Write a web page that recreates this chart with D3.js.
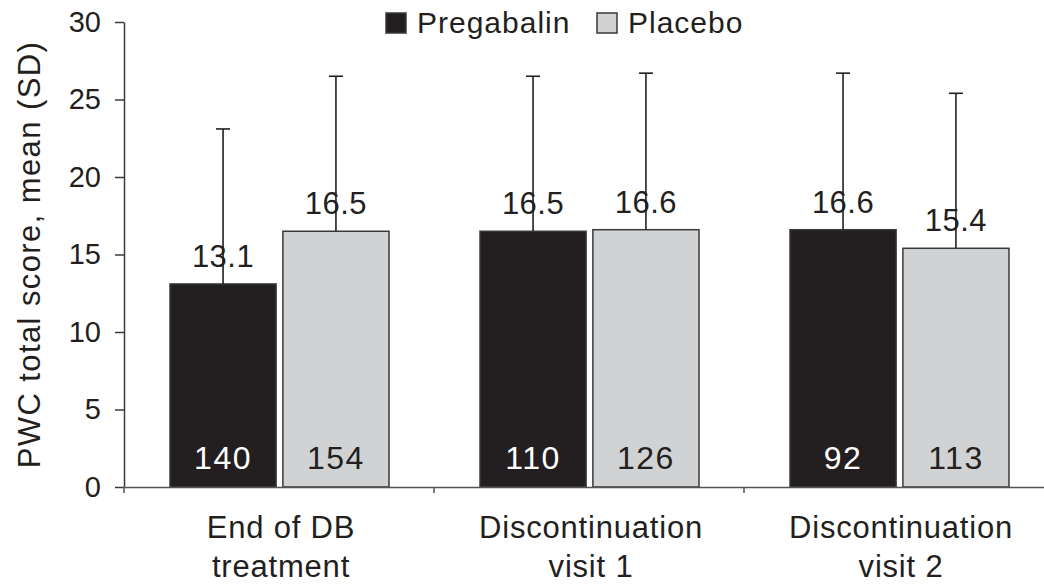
<!DOCTYPE html>
<html>
<head>
<meta charset="utf-8">
<script src="https://cdn.jsdelivr.net/npm/d3@7"></script>
<style>
  html, body { margin: 0; padding: 0; background: #fff; }
  svg { display: block; }
  text { font-family: "Liberation Sans", Arial, Helvetica, sans-serif; fill: #231f20; }
</style>
</head>
<body>
<svg id="chart" width="1044" height="588"></svg>
<script>
// Visit groups (two-line axis labels)
const categories = ["End of DB treatment", "Discontinuation visit 1", "Discontinuation visit 2"];
const categoryLines = [["End of DB", "treatment"], ["Discontinuation", "visit 1"], ["Discontinuation", "visit 2"]];
const seriesNames = ["Pregabalin", "Placebo"];

// PWC total score, mean and SD
const pregabalinMean = [13.1, 16.5, 16.6];
const placeboMean = [16.5, 16.6, 15.4];
const pregabalinSD = [10.0, 10.0, 10.1];
const placeboSD = [10.0, 10.1, 10.0];

// Patients per bar
const pregabalinN = [140, 110, 92];
const placeboN = [154, 126, 113];

const yTicks = [0, 5, 10, 15, 20, 25, 30];

const svg = d3.select("#chart");
const plotLeft = 124, plotTop = 22, plotBottom = 487;
const bandStep = 310;

const y = d3.scaleLinear().domain([0, 30]).range([plotBottom, plotTop]);
const x0 = d3.scaleBand().domain(categories).range([plotLeft, plotLeft + bandStep * categories.length]).padding(0);
const x1 = d3.scaleBand().domain(seriesNames).range([46, 265]).paddingInner(0.06).paddingOuter(0);

const fills = { "Pregabalin": "#231f20", "Placebo": "#d1d2d4" };
const labelFill = { "Pregabalin": "#ffffff", "Placebo": "#231f20" };

const rows = [];
categories.forEach((c, i) => {
  rows.push({ cat: c, s: "Pregabalin", mean: pregabalinMean[i], sd: pregabalinSD[i], n: pregabalinN[i] });
  rows.push({ cat: c, s: "Placebo", mean: placeboMean[i], sd: placeboSD[i], n: placeboN[i] });
});

// Bars
svg.append("g").selectAll("rect").data(rows).join("rect")
  .attr("x", d => x0(d.cat) + x1(d.s))
  .attr("y", d => y(d.mean))
  .attr("width", x1.bandwidth())
  .attr("height", d => y(0) - y(d.mean))
  .attr("fill", d => fills[d.s])
  .attr("stroke", "#3a3a3a")
  .attr("stroke-width", 1.5);

// Mean labels above bars
svg.append("g").selectAll("text").data(rows).join("text")
  .attr("x", d => x0(d.cat) + x1(d.s) + x1.bandwidth() / 2)
  .attr("y", d => y(d.mean) - 17)
  .attr("text-anchor", "middle")
  .attr("font-size", 31)
  .attr("letter-spacing", 0.5)
  .text(d => d.mean.toFixed(1));

// Upper SD whiskers
const err = svg.append("g").attr("stroke", "#231f20").attr("stroke-width", 1.6);
rows.forEach(d => {
  const cx = x0(d.cat) + x1(d.s) + x1.bandwidth() / 2;
  err.append("line").attr("x1", cx).attr("x2", cx).attr("y1", y(d.mean)).attr("y2", y(d.mean + d.sd));
  err.append("line").attr("x1", cx - 7).attr("x2", cx + 7).attr("y1", y(d.mean + d.sd)).attr("y2", y(d.mean + d.sd));
});

// Patient counts inside bars
svg.append("g").selectAll("text").data(rows).join("text")
  .attr("x", d => x0(d.cat) + x1(d.s) + x1.bandwidth() / 2)
  .attr("y", y(0) - 18)
  .attr("text-anchor", "middle")
  .attr("font-size", 32)
  .attr("letter-spacing", 1.5)
  .style("fill", d => labelFill[d.s])
  .text(d => d.n);

// Y axis
const yAxis = svg.append("g").attr("transform", `translate(${plotLeft},0)`)
  .call(d3.axisLeft(y).tickValues(yTicks).tickSize(9).tickSizeOuter(0).tickPadding(14));
yAxis.selectAll("path, line").attr("stroke", "#3a3a3a").attr("stroke-width", 1.5);
yAxis.selectAll("text").attr("font-size", 29).attr("font-family", "Liberation Sans, Arial, sans-serif").style("fill", "#231f20");

// X axis: baseline with ticks at group boundaries
const xAxis = svg.append("g").attr("transform", `translate(0,${y(0)})`)
  .call(d3.axisBottom(x0).tickSize(0).tickSizeOuter(0).tickFormat(""));
xAxis.select(".domain").attr("stroke", "#555").attr("stroke-width", 1.5);
xAxis.selectAll(".tick line").remove();
xAxis.selectAll(".tick-mark").data(categories).join("line")
  .attr("class", "tick-mark")
  .attr("x1", d => x0(d)).attr("x2", d => x0(d))
  .attr("y1", 0).attr("y2", 6)
  .attr("stroke", "#555").attr("stroke-width", 1.5);

// Category labels
const catText = svg.append("g").selectAll("text").data(categories).join("text")
  .attr("text-anchor", "middle")
  .attr("font-size", 31)
  .attr("letter-spacing", 0.8);
catText.each(function (d, i) {
  const t = d3.select(this);
  const cx = x0(d) + x0.bandwidth() / 2 + 2;
  categoryLines[i].forEach((line, j) => {
    t.append("tspan").attr("x", cx).attr("y", 538 + j * 39).text(line);
  });
});

// Y axis title
svg.append("text")
  .attr("transform", `translate(40,${(plotTop + plotBottom) / 2}) rotate(-90)`)
  .attr("text-anchor", "middle")
  .attr("font-size", 31)
  .attr("letter-spacing", 1.4)
  .text("PWC total score, mean (SD)");

// Legend
const legendX = [386, 597];
const legend = svg.append("g");
seriesNames.forEach((s, i) => {
  legend.append("rect")
    .attr("x", legendX[i]).attr("y", 13).attr("width", 20).attr("height", 20)
    .attr("fill", fills[s]).attr("stroke", "#3a3a3a").attr("stroke-width", 1.5);
  legend.append("text")
    .attr("x", legendX[i] + 31).attr("y", 33)
    .attr("font-size", 30)
    .attr("letter-spacing", 1)
    .text(s);
});
</script>
</body>
</html>
